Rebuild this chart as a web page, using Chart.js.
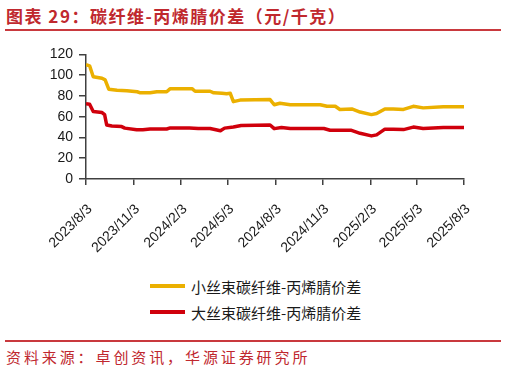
<!DOCTYPE html>
<html>
<head>
<meta charset="utf-8">
<script src="https://cdn.jsdelivr.net/npm/chart.js@4/dist/chart.umd.min.js"></script>
<style>
  html, body { margin: 0; padding: 0; background: #fff; }
  #wrap { position: relative; width: 506px; height: 374px; overflow: hidden; font-family: "Noto Sans CJK SC", sans-serif; }
  #title { position: absolute; left: 6px; top: 5px; font-size: 17px; font-weight: bold; color: #C0282E; letter-spacing: 1.5px; white-space: nowrap; line-height: 22px; }
  #rule1 { position: absolute; left: 5px; top: 29px; width: 496px; height: 2px; background: #C9393E; }
  #rule2 { position: absolute; left: 5px; top: 340px; width: 496px; height: 2px; background: #C9393E; }
  #source { position: absolute; left: 6px; top: 346px; font-size: 15px; color: #C0282E; letter-spacing: 2.9px; white-space: nowrap; line-height: 22px; }
  #chartBox { position: absolute; left: 0; top: 40px; width: 506px; height: 230px; }
  #legend { position: absolute; left: 150px; top: 273px; }
  .li { display: flex; align-items: center; height: 26px; }
  .sw { width: 35px; height: 4px; margin-right: 6px; }
  .lt { font-size: 15px; color: #1a1a1a; white-space: nowrap; }
</style>
</head>
<body>
<div id="wrap">
  <div id="title">图表 29：碳纤维-丙烯腈价差（元/千克）</div>
  <div id="rule1"></div>
  <div id="chartBox"><canvas id="c" width="506" height="230"></canvas></div>
  <div id="legend"></div>
  <div id="rule2"></div>
  <div id="source">资料来源：卓创资讯，华源证券研究所</div>
</div>
<script>
// Day offsets from 2023/8/3 and readings (元/千克)
const smallDays = [0, 7, 14, 31, 37, 44, 60, 79, 99, 105, 124, 137, 156, 163, 205, 211, 240, 247, 263, 272, 279, 285, 298, 356, 364, 375, 395, 453, 466, 482, 491, 514, 530, 552, 562, 578, 594, 614, 633, 652, 691, 731];
const smallTow = [110, 109, 98.5, 97, 95.5, 86.5, 85.5, 85, 84, 83, 83, 84, 84, 87, 87, 84.5, 84.5, 83, 82.5, 82, 82.5, 74.5, 76, 76.5, 71.5, 73, 71.5, 71.5, 70, 70, 67, 67.5, 64.5, 62, 63, 67.5, 67.5, 67, 70, 68.5, 69.5, 69.5];
const largeDays = [0, 7, 14, 31, 36, 40, 50, 69, 75, 98, 110, 124, 156, 163, 200, 217, 240, 260, 268, 285, 300, 356, 364, 378, 395, 460, 472, 512, 530, 552, 562, 578, 594, 614, 633, 652, 691, 731];
const largeTow = [72.5, 72, 65, 64, 62, 52, 51, 50.5, 49, 47.5, 47.5, 48.2, 48.2, 49.2, 49.2, 48.6, 48.6, 46.5, 49, 50, 51.5, 52, 48.5, 49.5, 48.6, 48.6, 47, 47, 44, 41.5, 42.5, 48, 48, 47.6, 50, 48.6, 49.5, 49.5];
const tickDays = [0, 92, 184, 274, 366, 458, 550, 639, 731];
const tickLabels = ['2023/8/3', '2023/11/3', '2024/2/3', '2024/5/3', '2024/8/3', '2024/11/3', '2025/2/3', '2025/5/3', '2025/8/3'];
const seriesNames = ['小丝束碳纤维-丙烯腈价差', '大丝束碳纤维-丙烯腈价差'];
const yTicks = [0, 20, 40, 60, 80, 100, 120];

const toPts = (xs, ys) => xs.map((d, i) => ({ x: d, y: ys[i] }));
const tickFont = { family: '"Liberation Sans", Arial, sans-serif', size: 14 };

const chart = new Chart(document.getElementById('c'), {
  type: 'line',
  data: {
    datasets: [
      { label: seriesNames[0], data: toPts(smallDays, smallTow), borderColor: '#EBB000', backgroundColor: '#EBB000', borderWidth: 3.5, pointRadius: 0, tension: 0, borderJoinStyle: 'round' },
      { label: seriesNames[1], data: toPts(largeDays, largeTow), borderColor: '#D0000C', backgroundColor: '#D0000C', borderWidth: 3.5, pointRadius: 0, tension: 0, borderJoinStyle: 'round' }
    ]
  },
  options: {
    responsive: false,
    animation: false,
    layout: { padding: { left: 0, right: 42, top: 13, bottom: 0 } },
    plugins: { legend: { display: false }, tooltip: { enabled: false } },
    scales: {
      x: {
        type: 'linear', min: 0, max: 731,
        afterBuildTicks: (s) => { s.ticks = tickDays.map(v => ({ value: v })); },
        afterFit: (s) => { s.height = 91; },
        ticks: { autoSkip: false, minRotation: 45, maxRotation: 45, font: tickFont, color: '#1a1a1a', padding: 16, labelOffset: 4,
          callback: (v) => { const i = tickDays.indexOf(v); return i >= 0 ? tickLabels[i] : ''; } },
        grid: { drawOnChartArea: false, drawTicks: true, tickLength: 6, color: '#404040', lineWidth: 1.5 },
        border: { display: true, color: '#404040', width: 1.5 }
      },
      y: {
        min: 0, max: 120,
        afterBuildTicks: (s) => { s.ticks = yTicks.map(v => ({ value: v })); },
        afterFit: (s) => { s.width = 86; },
        ticks: { font: tickFont, color: '#1a1a1a', padding: 6 },
        grid: { drawOnChartArea: false, drawTicks: true, tickLength: 7, color: '#404040', lineWidth: 1.5 },
        border: { display: true, color: '#404040', width: 1.5 }
      }
    }
  }
});

const leg = document.getElementById('legend');
chart.data.datasets.forEach(ds => {
  const row = document.createElement('div'); row.className = 'li';
  const sw = document.createElement('div'); sw.className = 'sw'; sw.style.background = ds.borderColor;
  const t = document.createElement('div'); t.className = 'lt'; t.textContent = ds.label;
  row.appendChild(sw); row.appendChild(t); leg.appendChild(row);
});
</script>
</body>
</html>
